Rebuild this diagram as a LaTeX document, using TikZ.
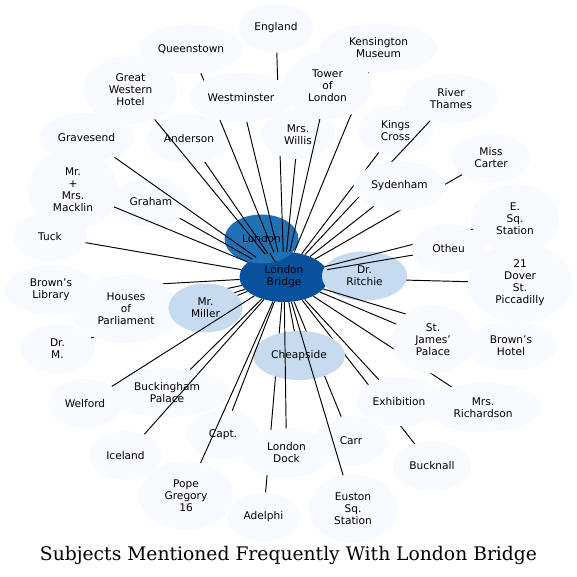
\documentclass[tikz,border=0pt]{standalone}
\usepackage{fontspec}
\setmainfont{DejaVu Sans}
\newfontfamily\titlefont{DejaVu Serif}
\usepackage{graphicx}
\usetikzlibrary{shapes.geometric}
\definecolor{cpale}{HTML}{F7FBFF}
\definecolor{cmid}{HTML}{C6DBEF}
\definecolor{clon}{HTML}{2171B5}
\definecolor{clb}{HTML}{08519C}
\begin{document}
\begin{tikzpicture}[x=1pt,y=-1pt,
  nd/.style={ellipse, fill=cpale, inner sep=0pt, align=center,
    font=\fontsize{10.6}{12}\selectfont, minimum height=49pt},
  tall/.style={minimum height=68pt},
  taller/.style={minimum height=80pt},
  mid/.style={fill=cmid},
  ed/.style={line width=0.95pt, black}]
\useasboundingbox (0,0) rectangle (576,577);

% ---------- nodes lying under every connector
\node[nd, fill=clb, minimum width=89pt, minimum height=50pt] (lb) at (284,277) {London\\Bridge};
\node[nd, fill=clon, minimum width=74pt] (lon) at (261.5,239) {London};
\node[nd, mid, minimum width=85pt] (rit) at (364.5,276) {Dr.\\Ritchie};
\draw[ed] (lb) -- (lon);
\draw[ed] (lb) -- (rit);
\coordinate (dovc) at (520,283);
\draw[ed] (lb) -- (dovc);
\node[nd, mid, minimum width=85pt] at (364.5,276) {Dr.\\Ritchie};
\node[nd, minimum width=84pt] (and) at (189,139) {Anderson};
\node[nd, minimum width=124pt] (buc) at (167,392.5) {Buckingham\\Palace};
\node[nd, minimum width=72pt] (cap) at (223,434.5) {Capt.};
\node[nd, minimum width=76pt] (grh) at (151,202) {Graham};

% ---------- nodes drawn over some connectors
\node[nd, minimum width=74pt] (eng) at (276,28) {England};
\node[nd, minimum width=104pt] (que) at (191,49) {Queenstown};
\node[nd, minimum width=118pt] (ken) at (378.5,48) {Kensington\\Museum};
\node[nd, tall, minimum width=94pt] (gwh) at (130.5,90) {Great\\Western\\Hotel};
\node[nd, minimum width=94pt] (riv) at (451,98.5) {River\\Thames};
\node[nd, minimum width=94pt] (gra) at (86.5,137.5) {Gravesend};
\node[nd, minimum width=75pt] (kin) at (395.5,130.5) {Kings\\Cross};
\node[nd, minimum width=78pt] (mis) at (491,158) {Miss\\Carter};
\node[nd, taller, minimum width=90pt] (mac) at (73,190) {Mr.\\+\\Mrs.\\Macklin};
\node[nd, minimum width=73pt] (tuc) at (50,236.5) {Tuck};
\node[nd, minimum width=92pt] (bli) at (51,290) {Brown's\\Library};
\node[nd, minimum width=74pt] (drm) at (57.5,348.5) {Dr.\\M.};
\node[nd, minimum width=74pt] (wel) at (85,403.5) {Welford};
\node[nd, minimum width=73pt] (ice) at (125.5,455.5) {Iceland};
\node[nd, tall, minimum width=94pt] (pop) at (186,495.5) {Pope\\Gregory\\16};
\node[nd, minimum width=73pt] (ade) at (263.5,517) {Adelphi};
\node[nd, tall, minimum width=88pt] (eus) at (353,508.5) {Euston\\Sq.\\Station};
\node[nd, minimum width=89pt] (ldo) at (286.5,453) {London\\Dock};
\node[nd, minimum width=72pt] (car) at (351,440.5) {Carr};
\node[nd, minimum width=78pt] (buk) at (432,466) {Bucknall};
\node[nd, minimum width=84pt] (exh) at (399,401.5) {Exhibition};
\node[nd, minimum width=116pt] (ric) at (483,407.5) {Mrs.\\Richardson};
\node[nd, minimum width=90pt] (bho) at (511,346) {Brown's\\Hotel};
\node[nd, tall, minimum width=82pt] (stj) at (433,339.5) {St.\\James'\\Palace};
\node[nd, taller, minimum width=104pt] (dov) at (520,283) {21\\Dover\\St.\\Piccadilly};
\node[nd, minimum width=73pt] (oth) at (448.5,249) {Otheu};
\node[nd, tall, minimum width=88pt] (esq) at (515,218.5) {E.\\Sq.\\Station};

% connectors partly hidden by the nodes drawn after them
\draw[ed] (lb) -- (que);
\draw[ed] (lb) -- (eng);
\draw[ed] (lb) -- (ken);
\draw[ed] (lb) -- (kin);
\draw[ed] (lb) -- (riv);
\draw[ed] (lb) -- (mis);
\draw[ed] (lb) -- (esq);
\draw[ed] (lb) -- (bho);
\draw[ed] (lb) -- (ric);
\draw[ed] (lb) -- (buk);
\draw[ed] (lb) -- (ade);
\draw[ed] (lb) -- (car);
\draw[ed] (lb) -- (bli);
\draw[ed] (lb) -- (drm);

\node[nd, minimum width=104pt] (wes) at (241,97.5) {Westminster};
\node[nd, minimum width=74pt] (wil) at (298,134.5) {Mrs.\\Willis};
\node[nd, tall, minimum width=88pt] (tow) at (327.5,85.5) {Tower\\of\\London};
\node[nd, minimum width=92pt] (syd) at (399.5,186) {Sydenham};
\node[nd, tall, minimum width=112pt] (hop) at (126,309) {Houses\\of\\Parliament};
\draw[ed] (lb) -- (hop);
\node[nd, mid, minimum width=74pt] (mil) at (205.5,308) {Mr.\\Miller};
\node[nd, mid, minimum width=92pt] (che) at (299,355.5) {Cheapside};
\node[nd, tall, minimum width=88pt] at (353,508.5) {Euston\\Sq.\\Station};
\node[nd, minimum width=89pt] at (286.5,453) {London\\Dock};
\node[nd, minimum width=72pt] at (351,440.5) {Carr};
\node[nd, minimum width=84pt] at (399,401.5) {Exhibition};
\node[nd, minimum width=116pt] at (483,407.5) {Mrs.\\Richardson};
\node[nd, tall, minimum width=82pt] at (433,339.5) {St.\\James'\\Palace};
\node[nd, minimum width=73pt] at (448.5,249) {Otheu};
\node[nd, tall, minimum width=88pt] at (515,218.5) {E.\\Sq.\\Station};

% ---------- connectors drawn over the nodes
\draw[ed] (lb) -- (wes);
\draw[ed] (lb) -- (wil);
\draw[ed] (lb) -- (tow);
\draw[ed] (lb) -- (gwh);
\draw[ed] (lb) -- (and);
\draw[ed] (lb) -- (gra);
\draw[ed] (lb) -- (grh);
\draw[ed] (lb) -- (mac);
\draw[ed] (lb) -- (tuc);
\draw[ed] (lb) -- (mil);
\draw[ed] (lb) -- (wel);
\draw[ed] (lb) -- (buc);
\draw[ed] (lb) -- (ice);
\draw[ed] (lb) -- (cap);
\draw[ed] (lb) -- (pop);
\draw[ed] (lb) -- (ldo);
\draw[ed] (lb) -- (che);
\draw[ed] (lb) -- (eus);
\draw[ed] (lb) -- (exh);
\draw[ed] (lb) -- (stj);
\draw[ed] (lb) -- (oth);
\draw[ed] (lb) -- (syd);

% ---------- title
\node[anchor=base, inner sep=0pt] (title) at (288.5,560)
  {\resizebox{497pt}{!}{\titlefont Subjects Mentioned Frequently With London Bridge}};
\end{tikzpicture}
\end{document}
